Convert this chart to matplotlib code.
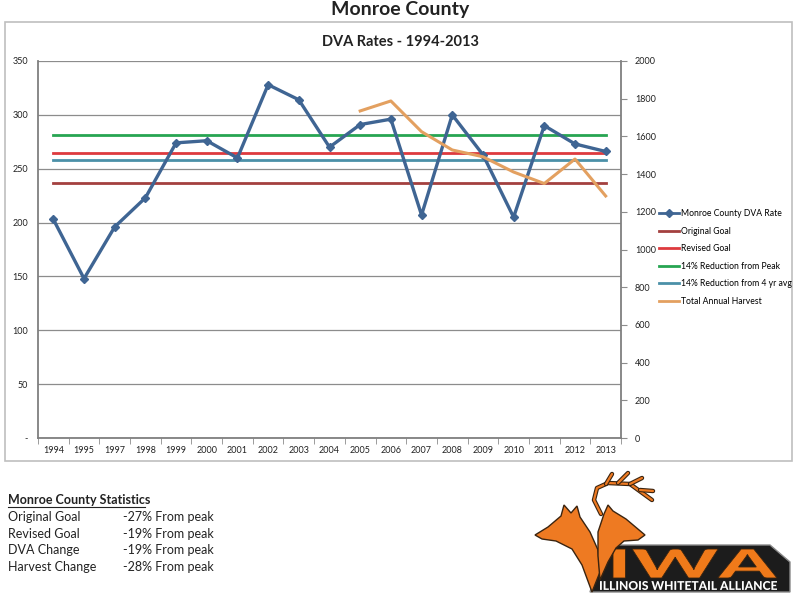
import matplotlib
matplotlib.use("Agg")
import matplotlib.pyplot as plt
from matplotlib.patches import Rectangle, Polygon, PathPatch
from matplotlib.lines import Line2D
from matplotlib.textpath import TextPath
from matplotlib.font_manager import FontProperties
from matplotlib.transforms import Affine2D, IdentityTransform

plt.rcParams['font.family'] = ['Lato', 'DejaVu Sans']

years = ['1994', '1995', '1997', '1998', '1999', '2000', '2001', '2002', '2003', '2004',
         '2005', '2006', '2007', '2008', '2009', '2010', '2011', '2012', '2013']
dva_rate = [203, 148, 196, 223, 274, 276, 260, 328, 314, 270,
            291, 296, 207, 300, 263, 205, 290, 273, 266]
original_goal = 237
revised_goal = 265
reduction_peak = 281
reduction_4yr = 258
harvest_years = ['2005', '2006', '2007', '2008', '2009', '2010', '2011', '2012', '2013']
harvest = [1735, 1788, 1625, 1528, 1492, 1411, 1350, 1480, 1284]

left_ticks = [0, 50, 100, 150, 200, 250, 300, 350]
left_labels = ['-', '50', '100', '150', '200', '250', '300', '350']
right_ticks = [0, 200, 400, 600, 800, 1000, 1200, 1400, 1600, 1800, 2000]

stats_labels = ['Original Goal', 'Revised Goal', 'DVA Change', 'Harvest Change']
stats_values = ['-27%', '-19%', '-19%', '-28%']

c_dva = '#3F6593'
c_orig = '#A3403F'
c_rev = '#DE3A3E'
c_green = '#27A552'
c_teal = '#4B90A8'
c_harv = '#E3A060'
txt = '#222222'

W, H = 800, 601
fig = plt.figure(figsize=(8, 6.01), dpi=100)
fig.patch.set_facecolor('white')


def fx(px):
    return px / W


def fy(py):
    return 1 - py / H


# chart box
fig.patches.append(Rectangle((fx(5), fy(461)), 787 / W, 439 / H,
                             transform=fig.transFigure, fill=False,
                             edgecolor='#BFBFBF', linewidth=1.2))

fig.text(0.5, fy(10), 'Monroe County', ha='center', va='center',
         fontsize=14, fontweight='bold', color=txt)
fig.text(0.5, fy(42), 'DVA Rates - 1994-2013', ha='center', va='center',
         fontsize=10.5, fontweight='bold', color=txt)

ax = fig.add_axes([fx(38), fy(438), (621 - 38) / W, (438 - 61) / H])
x = list(range(len(years)))
n = len(years)

ax.set_ylim(0, 350)
ax.set_xlim(-0.5, n - 0.5)
ax.set_yticks(left_ticks)
ax.set_yticklabels(left_labels)
ax.yaxis.grid(True, color='#8C8C8C', linewidth=0.9)
ax.set_axisbelow(True)
ax.tick_params(axis='y', length=0, labelsize=6.5, colors=txt, pad=7)

ax.set_xticks(x)
ax.set_xticklabels(years)
ax.tick_params(axis='x', length=0, labelsize=6.5, colors=txt, pad=6)
ax.set_xticks([i + 0.5 for i in range(-1, n)], minor=True)
ax.tick_params(axis='x', which='minor', length=4, color='#8C8C8C', direction='out')

ax.spines['top'].set_visible(False)
ax.spines['right'].set_visible(False)
for s in ['left', 'bottom']:
    ax.spines[s].set_color('#7F7F7F')
    ax.spines[s].set_linewidth(1.3)

ax.plot(x, [original_goal] * n, color=c_orig, lw=2, zorder=2)
ax.plot(x, [revised_goal] * n, color=c_rev, lw=2, zorder=2)
ax.plot(x, [reduction_peak] * n, color=c_green, lw=2, zorder=2)
ax.plot(x, [reduction_4yr] * n, color=c_teal, lw=2, zorder=2)
ax.plot(x, dva_rate, color=c_dva, lw=2.4, marker='D', markersize=4.5, zorder=4)

ax2 = ax.twinx()
ax2.set_ylim(0, 2000)
ax2.set_yticks(right_ticks)
ax2.tick_params(axis='y', length=4, labelsize=6.5, colors=txt, pad=6)
ax2.tick_params(axis='y', color='#8C8C8C')
for s in ['top', 'left', 'bottom']:
    ax2.spines[s].set_visible(False)
ax2.spines['right'].set_color('#7F7F7F')
ax2.spines['right'].set_linewidth(1.3)
hx = [years.index(y) for y in harvest_years]
ax2.plot(hx, harvest, color=c_harv, lw=2.2, zorder=3)

handles = [
    Line2D([], [], color=c_dva, lw=2, marker='D', markersize=4),
    Line2D([], [], color=c_orig, lw=2),
    Line2D([], [], color=c_rev, lw=2),
    Line2D([], [], color=c_green, lw=2),
    Line2D([], [], color=c_teal, lw=2),
    Line2D([], [], color=c_harv, lw=2),
]
labels = ['Monroe County DVA Rate', 'Original Goal', 'Revised Goal',
          '14% Reduction from Peak', '14% Reduction from 4 yr avg', 'Total Annual Harvest']
fig.legend(handles, labels, loc='upper left', bbox_to_anchor=(fx(659), fy(209)),
           frameon=False, fontsize=6.2, handlelength=2.3, handletextpad=0.2,
           labelspacing=1.0, borderaxespad=0, borderpad=0)

# statistics block
fig.text(fx(8), fy(500), 'Monroe County Statistics', ha='left', va='center',
         fontsize=9, fontweight='bold', color=txt)
fig.add_artist(Line2D([fx(8), fx(145)], [fy(507), fy(507)],
                      transform=fig.transFigure, color=txt, lw=0.8))
for i, (lab, val) in enumerate(zip(stats_labels, stats_values)):
    yy = fy(517 + i * 16.7)
    fig.text(fx(8), yy, lab, ha='left', va='center', fontsize=9, color=txt)
    fig.text(fx(123), yy, val + ' From peak', ha='left', va='center', fontsize=9, color=txt)


# ---- IWA logo (approximation) ----
def pix_poly(pts, **kw):
    return Polygon([(fx(a), fy(b)) for a, b in pts], closed=True,
                   transform=fig.transFigure, **kw)


def text_in_box(s, x0, x1, ytop, ybot, color, ec='none', lw=0):
    tp = TextPath((0, 0), s, size=20, prop=FontProperties(family='Lato', weight='black'))
    ext = tp.get_extents()
    sx = (x1 - x0) / ext.width
    sy = (ybot - ytop) / ext.height
    tr = Affine2D().translate(-ext.x0, -ext.y0).scale(sx, sy).translate(x0, H - ybot)
    fig.patches.append(PathPatch(tr.transform_path(tp), transform=IdentityTransform(),
                                 facecolor=color, edgecolor=ec, lw=lw))


fig.patches.append(pix_poly([(605, 545), (770, 545), (790, 562), (790, 592),
                             (590, 592), (600, 560)],
                            facecolor='#1C1C1C', edgecolor='#8A8A8A', lw=1))
text_in_box('IWA', 613, 777, 549, 578, '#F07A1A', ec='#3A2410', lw=0.6)
text_in_box('ILLINOIS WHITETAIL ALLIANCE', 600, 777, 581, 590, 'white')

orange = '#EE7A22'
dark = '#3A2410'
# left deer
fig.patches.append(pix_poly([(535, 535), (548, 527), (561, 516), (564, 505), (571, 513),
                             (577, 506), (580, 517), (590, 532), (598, 550), (600, 572),
                             (592, 592), (582, 565), (572, 549), (556, 541), (542, 539)],
                            facecolor=orange, edgecolor=dark, lw=1))
# right deer
fig.patches.append(pix_poly([(598, 532), (604, 514), (608, 505), (613, 511), (626, 519),
                             (645, 535), (638, 540), (624, 541), (616, 548), (608, 562),
                             (600, 580), (598, 556)],
                            facecolor=orange, edgecolor=dark, lw=1))
# antlers
for seg in [[(601, 514), (594, 500), (597, 488), (608, 483), (630, 484), (652, 500)],
            [(606, 484), (612, 474)], [(618, 483), (628, 473)],
            [(630, 484), (642, 478)], [(640, 490), (653, 491)]]:
    fig.add_artist(Line2D([fx(a) for a, b in seg], [fy(b) for a, b in seg],
                          transform=fig.transFigure, color=dark, lw=3.2,
                          solid_capstyle='round'))
    fig.add_artist(Line2D([fx(a) for a, b in seg], [fy(b) for a, b in seg],
                          transform=fig.transFigure, color=orange, lw=1.6,
                          solid_capstyle='round'))

fig.savefig('out.png', dpi=100, facecolor='white')
